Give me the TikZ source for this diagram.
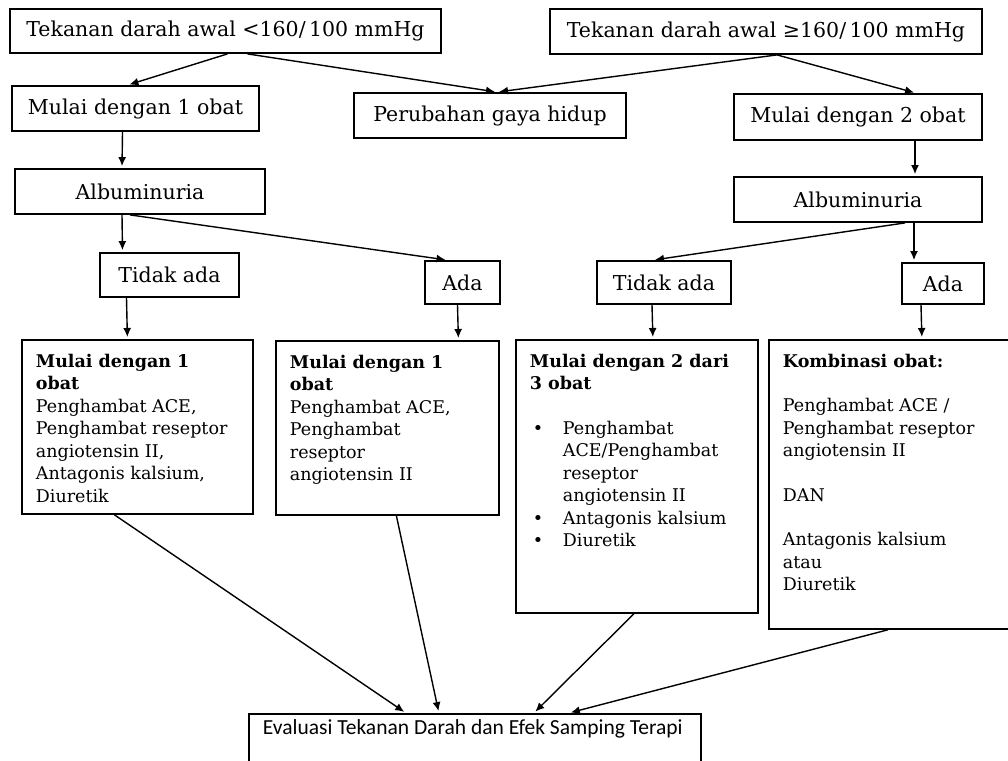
\documentclass[tikz,border=0pt]{standalone}
\usepackage{fontspec}
\setmainfont{DejaVu Serif}
\newfontfamily\evalfont{Carlito}
\usetikzlibrary{arrows.meta}
\tikzset{%
	kotak/.style={draw, line width=1.8pt, inner sep=0pt, font=\fontsize{20.5}{24}\selectfont},
	kartu/.style={draw, line width=1.8pt, anchor=north west, inner sep=14pt, font=\fontsize{17.5}{22.5}\selectfont},
	arrow/.style={line width=1.4pt,-{Latex[length=9pt,width=8pt]},shorten >=2pt}}

\begin{document}
\begin{tikzpicture}[x=1pt,y=-1pt]
		\useasboundingbox (0,0) rectangle (1008,760);
		\clip (0,0) rectangle (1008,760);

		\node[kotak, minimum width=431pt, minimum height=44pt] (TR) at (225.5,31) {Tekanan darah awal <160/\,100 mmHg};
		\node[kotak, minimum width=432pt, minimum height=45pt] (TT) at (766,31.5) {Tekanan darah awal ≥160/\,100 mmHg};
		\node[kotak, minimum width=247pt, minimum height=45pt] (M1) at (135.5,108.5) {Mulai dengan 1 obat};
		\node[kotak, minimum width=272pt, minimum height=45pt] (PGH) at (490,115.5) {Perubahan gaya hidup};
		\node[kotak, minimum width=248pt, minimum height=46pt] (M2) at (858,117) {Mulai dengan 2 obat};
		\node[kotak, minimum width=250pt, minimum height=45pt] (AL1) at (140,191.5) {Albuminuria};
		\node[kotak, minimum width=248pt, minimum height=45pt] (AL2) at (858,199.5) {Albuminuria};
		\node[kotak, minimum width=139pt, minimum height=44pt] (TA1) at (169.5,275) {Tidak ada};
		\node[kotak, minimum width=75pt, minimum height=43pt] (AD1) at (462.5,282.5) {Ada};
		\node[kotak, minimum width=134pt, minimum height=43pt] (TA2) at (664,282.5) {Tidak ada};
		\node[kotak, minimum width=82pt, minimum height=41pt] (AD2) at (943,283.5) {Ada};

		\node[kartu] (K1) at (21,339) {\parbox[t][146pt][t]{203pt}{%
			\textbf{Mulai dengan 1}\\ \textbf{obat}\\ Penghambat ACE,\\ Penghambat reseptor\\
			angiotensin II,\\ Antagonis kalsium,\\ Diuretik}};
		\node[kartu] (K2) at (275,340) {\parbox[t][146pt][t]{195pt}{%
			\textbf{Mulai dengan 1}\\ \textbf{obat}\\ Penghambat ACE,\\ Penghambat\\
			reseptor\\ angiotensin II}};
		\node[kartu] (K3) at (515,339) {\parbox[t][245pt][t]{214pt}{%
			\textbf{Mulai dengan 2 dari}\\ \textbf{3 obat}\\[22pt]
			\hspace*{3pt}\makebox[30pt][l]{\textbullet}Penghambat\\
			\hspace*{33pt}ACE/Penghambat\\
			\hspace*{33pt}reseptor\\
			\hspace*{33pt}angiotensin II\\
			\hspace*{3pt}\makebox[30pt][l]{\textbullet}Antagonis kalsium\\
			\hspace*{3pt}\makebox[30pt][l]{\textbullet}Diuretik}};
		\node[kartu] (K4) at (768,339) {\parbox[t][261pt][t]{216pt}{%
			\textbf{Kombinasi obat:}\\[22pt]
			Penghambat ACE /\\ Penghambat reseptor\\ angiotensin II\\[22pt]
			DAN\\[22pt]
			Antagonis kalsium\\ atau\\ Diuretik}};
		\node[kartu, inner ysep=6pt, font=\evalfont\fontsize{21.5}{24}\selectfont] (EV) at (248,713)
			{\parbox[t][63pt][t]{424pt}{Evaluasi Tekanan Darah dan Efek Samping Terapi}};

		\path[arrow] ([xshift=2pt]TR.south) 	edge ([xshift=-8pt]M1.north);
		\path[arrow] ([xshift=22pt]TR.south) 	edge ([xshift=7pt]PGH.north);
		\path[arrow] ([xshift=11pt]TT.south) 	edge ([xshift=7pt]PGH.north);
		\path[arrow] ([xshift=11pt]TT.south) 	edge ([xshift=58pt]M2.north);
		\path[arrow] ([xshift=-13pt]M1.south) 	edge ([xshift=-18pt]AL1.north);
		\path[arrow] ([xshift=57pt]M2.south) 	edge ([xshift=57pt]AL2.north);
		\path[arrow] ([xshift=-18pt]AL1.south) 	edge ([xshift=-47pt]TA1.north);
		\path[arrow] ([xshift=-10pt]AL1.south) 	edge ([xshift=-15pt]AD1.north);
		\path[arrow] ([xshift=47pt]AL2.south) 	edge ([xshift=-11pt]TA2.north);
		\path[arrow] ([xshift=56pt]AL2.south) 	edge ([xshift=-29pt]AD2.north);
		\path[arrow] ([xshift=-43pt]TA1.south) 	edge ([xshift=-10pt]K1.north);
		\path[arrow] ([xshift=-5pt]AD1.south) 	edge ([xshift=71pt]K2.north);
		\path[arrow] ([xshift=-12pt]TA2.south) 	edge ([xshift=16pt]K3.north);
		\path[arrow] ([xshift=-22pt]AD2.south) 	edge ([xshift=31pt]K4.north);
		\path[arrow] ([xshift=-23pt]K1.south) 	edge ([xshift=-69pt]EV.north);
		\path[arrow] ([xshift=9pt]K2.south) 	edge ([xshift=-36pt]EV.north);
		\path[arrow] ([xshift=-3pt]K3.south) 	edge ([xshift=59pt]EV.north);
		\path[arrow] ([xshift=-3pt]K4.south) 	edge ([xshift=94pt]EV.north);
	\end{tikzpicture}
\end{document}
